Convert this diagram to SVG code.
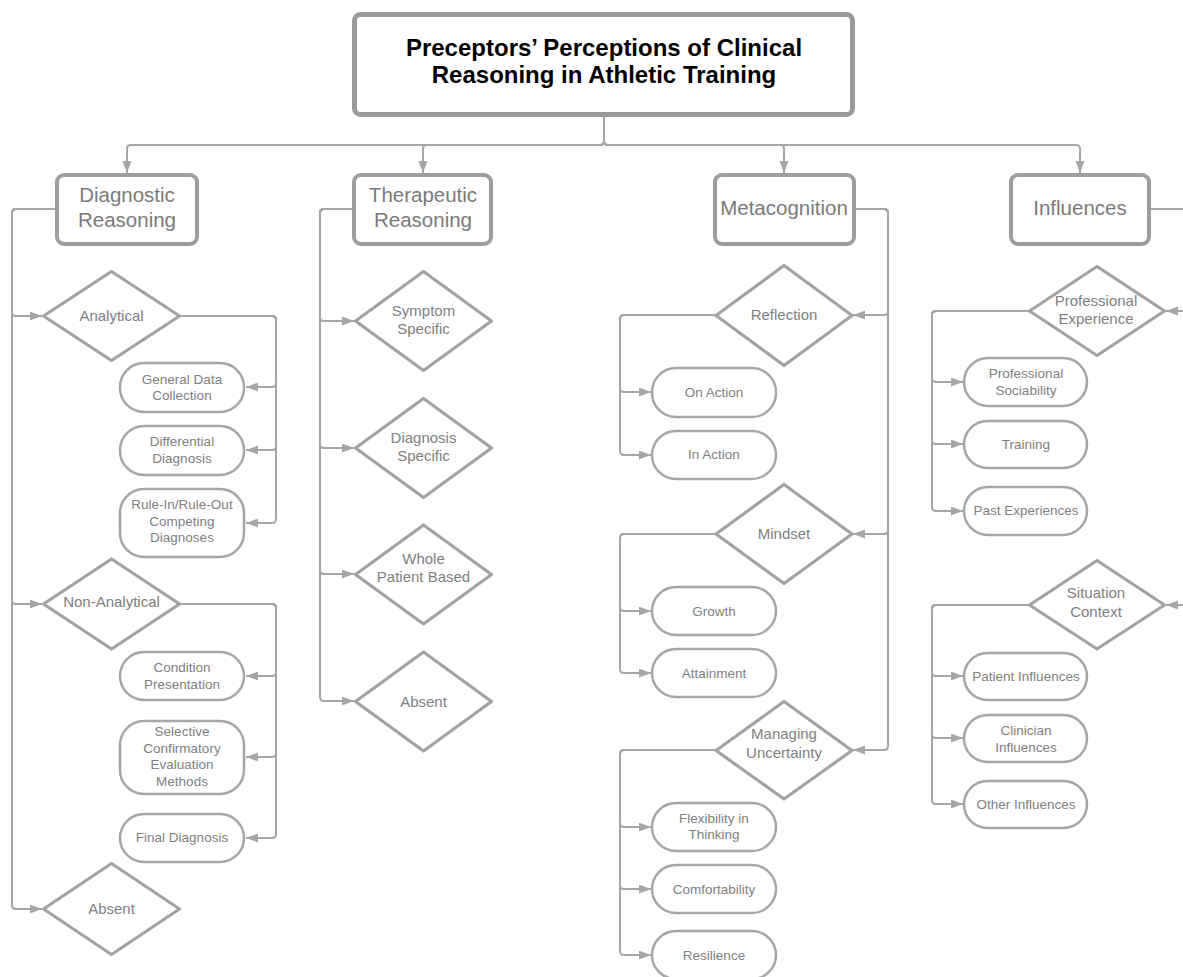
<svg xmlns="http://www.w3.org/2000/svg" width="1183" height="977" viewBox="0 0 1183 977">
<style>
.bg{fill:#ffffff}
.title{fill:#fff;stroke:#9a9a9a;stroke-width:5}
.tt{font-family:"Liberation Sans",Arial,sans-serif;font-weight:bold;font-size:24px;fill:#000;text-anchor:middle}
.cat{fill:#fff;stroke:#9e9e9e;stroke-width:4}
.ct{font-family:"Liberation Sans",Arial,sans-serif;font-size:20.5px;fill:#7a7a7a;text-anchor:middle}
.dia{fill:#fff;stroke:#a3a3a3;stroke-width:3.2;stroke-linejoin:round}
.dt{font-family:"Liberation Sans",Arial,sans-serif;font-size:15px;fill:#808080;text-anchor:middle}
.pill{fill:#fff;stroke:#a6a6a6;stroke-width:2.5}
.pt{font-family:"Liberation Sans",Arial,sans-serif;font-size:13.5px;fill:#808080;text-anchor:middle}
.con{fill:none;stroke:#a6a6a6;stroke-width:2;marker-end:url(#ah)}
.ln{fill:none;stroke:#a6a6a6;stroke-width:2}
</style>
<defs>
<marker id="ah" markerUnits="userSpaceOnUse" markerWidth="13" markerHeight="10" refX="12" refY="4.5" orient="auto">
<path d="M0,0 L12,4.5 L0,9 z" fill="#a6a6a6"/>
</marker>
</defs>
<rect class="bg" x="0" y="0" width="1183" height="977"/>

<g id="connectors">
<!-- top -->
<path class="con" d="M604,116 V141 Q604,145 600,145 H131 Q127,145 127,149 V173"/>
<path class="con" d="M604,116 V141 Q604,145 600,145 H427 Q423,145 423,149 V173"/>
<path class="con" d="M604,116 V141 Q604,145 608,145 H780 Q784,145 784,149 V173"/>
<path class="con" d="M604,116 V141 Q604,145 608,145 H1076 Q1080,145 1080,149 V173"/>
<!-- diagnostic -->
<path class="con" d="M55,209 H16 Q12,209 12,213 V312 Q12,316 16,316 H42"/>
<path class="con" d="M55,209 H16 Q12,209 12,213 V600 Q12,604 16,604 H42"/>
<path class="con" d="M55,209 H16 Q12,209 12,213 V905 Q12,909 16,909 H42"/>
<path class="con" d="M181,316 H272 Q276,316 276,320 V383 Q276,387 272,387 H246"/>
<path class="con" d="M181,316 H272 Q276,316 276,320 V446 Q276,450 272,450 H246"/>
<path class="con" d="M181,316 H272 Q276,316 276,320 V519 Q276,523 272,523 H246"/>
<path class="con" d="M181,604 H272 Q276,604 276,608 V672 Q276,676 272,676 H246"/>
<path class="con" d="M181,604 H272 Q276,604 276,608 V753 Q276,757 272,757 H246"/>
<path class="con" d="M181,604 H272 Q276,604 276,608 V834 Q276,838 272,838 H246"/>
<!-- therapeutic -->
<path class="con" d="M352,209 H324 Q320,209 320,213 V317 Q320,321 324,321 H354"/>
<path class="con" d="M352,209 H324 Q320,209 320,213 V444 Q320,448 324,448 H354"/>
<path class="con" d="M352,209 H324 Q320,209 320,213 V570 Q320,574 324,574 H354"/>
<path class="con" d="M352,209 H324 Q320,209 320,213 V697 Q320,701 324,701 H354"/>
<!-- metacognition -->
<path class="con" d="M856,209 H884 Q888,209 888,213 V311 Q888,315 884,315 H853"/>
<path class="con" d="M856,209 H884 Q888,209 888,213 V530 Q888,534 884,534 H853"/>
<path class="con" d="M856,209 H884 Q888,209 888,213 V746 Q888,750 884,750 H853"/>
<path class="con" d="M715,315 H624 Q620,315 620,319 V388 Q620,392 624,392 H651"/>
<path class="con" d="M715,315 H624 Q620,315 620,319 V451 Q620,455 624,455 H651"/>
<path class="con" d="M715,534 H624 Q620,534 620,538 V607 Q620,611 624,611 H651"/>
<path class="con" d="M715,534 H624 Q620,534 620,538 V669 Q620,673 624,673 H651"/>
<path class="con" d="M715,750 H624 Q620,750 620,754 V823 Q620,827 624,827 H651"/>
<path class="con" d="M715,750 H624 Q620,750 620,754 V885 Q620,889 624,889 H651"/>
<path class="con" d="M715,750 H624 Q620,750 620,754 V951 Q620,955 624,955 H651"/>
<!-- influences -->
<path class="ln" d="M1151,209 H1183"/>
<path class="con" d="M1183,311 H1166"/>
<path class="con" d="M1183,605 H1166"/>
<path class="con" d="M1029,311 H936 Q932,311 932,315 V378 Q932,382 936,382 H963"/>
<path class="con" d="M1029,311 H936 Q932,311 932,315 V440 Q932,444 936,444 H963"/>
<path class="con" d="M1029,311 H936 Q932,311 932,315 V507 Q932,511 936,511 H963"/>
<path class="con" d="M1029,605 H936 Q932,605 932,609 V672 Q932,676 936,676 H963"/>
<path class="con" d="M1029,605 H936 Q932,605 932,609 V734 Q932,738 936,738 H963"/>
<path class="con" d="M1029,605 H936 Q932,605 932,609 V800 Q932,804 936,804 H963"/>
</g>

<g id="title">
<rect class="title" x="354.5" y="14.5" width="498" height="100" rx="6"/>
<text class="tt" x="604" y="56">Preceptors’ Perceptions of Clinical</text>
<text class="tt" x="604" y="83">Reasoning in Athletic Training</text>
</g>

<g id="diagnostic-reasoning">
<rect class="cat" x="57" y="175" width="140" height="69" rx="7"/>
<text class="ct" x="127" y="202">Diagnostic</text>
<text class="ct" x="127" y="227">Reasoning</text>
</g>
<g id="therapeutic-reasoning">
<rect class="cat" x="354" y="175" width="137" height="69" rx="7"/>
<text class="ct" x="423" y="202">Therapeutic</text>
<text class="ct" x="423" y="227">Reasoning</text>
</g>
<g id="metacognition">
<rect class="cat" x="715" y="175" width="139" height="69" rx="7"/>
<text class="ct" x="784" y="215">Metacognition</text>
</g>
<g id="influences">
<rect class="cat" x="1011" y="175" width="138" height="69" rx="7"/>
<text class="ct" x="1080" y="215">Influences</text>
</g>

<!-- diagnostic children -->
<g id="analytical">
<polygon class="dia" points="111.5,271.5 179.5,316 111.5,360.5 43.5,316"/>
<text class="dt" x="111.5" y="321">Analytical</text>
</g>
<g id="general-data-collection">
<rect class="pill" x="120" y="363" width="124" height="49" rx="24"/>
<text class="pt" x="182" y="384">General Data</text>
<text class="pt" x="182" y="400">Collection</text>
</g>
<g id="differential-diagnosis">
<rect class="pill" x="120" y="426" width="124" height="49" rx="24"/>
<text class="pt" x="182" y="446">Differential</text>
<text class="pt" x="182" y="463">Diagnosis</text>
</g>
<g id="rule-in-rule-out">
<rect class="pill" x="120" y="489" width="124" height="68" rx="24"/>
<text class="pt" x="182" y="509">Rule-In/Rule-Out</text>
<text class="pt" x="182" y="526">Competing</text>
<text class="pt" x="182" y="542">Diagnoses</text>
</g>
<g id="non-analytical">
<polygon class="dia" points="111.5,559 179.5,604 111.5,649 43.5,604"/>
<text class="dt" x="111.5" y="607">Non-Analytical</text>
</g>
<g id="condition-presentation">
<rect class="pill" x="120" y="652" width="124" height="48" rx="24"/>
<text class="pt" x="182" y="672">Condition</text>
<text class="pt" x="182" y="689">Presentation</text>
</g>
<g id="selective-confirmatory">
<rect class="pill" x="120" y="721" width="124" height="73" rx="24"/>
<text class="pt" x="182" y="736">Selective</text>
<text class="pt" x="182" y="753">Confirmatory</text>
<text class="pt" x="182" y="769">Evaluation</text>
<text class="pt" x="182" y="786">Methods</text>
</g>
<g id="final-diagnosis">
<rect class="pill" x="120" y="814" width="124" height="48" rx="24"/>
<text class="pt" x="182" y="842">Final Diagnosis</text>
</g>
<g id="diagnostic-absent">
<polygon class="dia" points="111.5,863.5 179.5,909 111.5,954.5 43.5,909"/>
<text class="dt" x="111.5" y="914">Absent</text>
</g>

<!-- therapeutic children -->
<g id="symptom-specific">
<polygon class="dia" points="423.5,271.5 491.5,321 423.5,370.5 355.5,321"/>
<text class="dt" x="423.5" y="316">Symptom</text>
<text class="dt" x="423.5" y="334">Specific</text>
</g>
<g id="diagnosis-specific">
<polygon class="dia" points="423.5,398.5 491.5,448 423.5,497.5 355.5,448"/>
<text class="dt" x="423.5" y="443">Diagnosis</text>
<text class="dt" x="423.5" y="461">Specific</text>
</g>
<g id="whole-patient-based">
<polygon class="dia" points="423.5,525 491.5,574.5 423.5,624 355.5,574.5"/>
<text class="dt" x="423.5" y="564">Whole</text>
<text class="dt" x="423.5" y="582">Patient Based</text>
</g>
<g id="therapeutic-absent">
<polygon class="dia" points="423.5,652 491.5,701.5 423.5,751 355.5,701.5"/>
<text class="dt" x="423.5" y="707">Absent</text>
</g>

<!-- metacognition children -->
<g id="reflection">
<polygon class="dia" points="784,265.5 852,315.5 784,365.5 716,315.5"/>
<text class="dt" x="784" y="320">Reflection</text>
</g>
<g id="on-action">
<rect class="pill" x="652" y="368" width="124" height="49" rx="24"/>
<text class="pt" x="714" y="397">On Action</text>
</g>
<g id="in-action">
<rect class="pill" x="652" y="431" width="124" height="48" rx="24"/>
<text class="pt" x="714" y="459">In Action</text>
</g>
<g id="mindset">
<polygon class="dia" points="784,484.5 852,534 784,583.5 716,534"/>
<text class="dt" x="784" y="539">Mindset</text>
</g>
<g id="growth">
<rect class="pill" x="652" y="587" width="124" height="48" rx="24"/>
<text class="pt" x="714" y="616">Growth</text>
</g>
<g id="attainment">
<rect class="pill" x="652" y="649" width="124" height="48" rx="24"/>
<text class="pt" x="714" y="678">Attainment</text>
</g>
<g id="managing-uncertainty">
<polygon class="dia" points="784,701.5 852,750.5 784,799 716,750.5"/>
<text class="dt" x="784" y="739">Managing</text>
<text class="dt" x="784" y="758">Uncertainty</text>
</g>
<g id="flexibility-in-thinking">
<rect class="pill" x="652" y="803" width="124" height="48" rx="24"/>
<text class="pt" x="714" y="823">Flexibility in</text>
<text class="pt" x="714" y="839">Thinking</text>
</g>
<g id="comfortability">
<rect class="pill" x="652" y="865" width="124" height="48" rx="24"/>
<text class="pt" x="714" y="894">Comfortability</text>
</g>
<g id="resilience">
<rect class="pill" x="652" y="931" width="124" height="48" rx="24"/>
<text class="pt" x="714" y="960">Resilience</text>
</g>

<!-- influences children -->
<g id="professional-experience">
<polygon class="dia" points="1097,266.5 1164.5,311 1097,355.5 1029.5,311"/>
<text class="dt" x="1096" y="306">Professional</text>
<text class="dt" x="1096" y="324">Experience</text>
</g>
<g id="professional-sociability">
<rect class="pill" x="964" y="358" width="123" height="48" rx="24"/>
<text class="pt" x="1026" y="378">Professional</text>
<text class="pt" x="1026" y="395">Sociability</text>
</g>
<g id="training">
<rect class="pill" x="964" y="421" width="123" height="47" rx="23.5"/>
<text class="pt" x="1026" y="449">Training</text>
</g>
<g id="past-experiences">
<rect class="pill" x="964" y="487" width="123" height="48" rx="24"/>
<text class="pt" x="1026" y="515">Past Experiences</text>
</g>
<g id="situation-context">
<polygon class="dia" points="1097,560.5 1164.5,605 1097,649 1029.5,605"/>
<text class="dt" x="1096" y="598">Situation</text>
<text class="dt" x="1096" y="617">Context</text>
</g>
<g id="patient-influences">
<rect class="pill" x="964" y="653" width="123" height="47" rx="23.5"/>
<text class="pt" x="1026" y="681">Patient Influences</text>
</g>
<g id="clinician-influences">
<rect class="pill" x="964" y="715" width="123" height="47" rx="23.5"/>
<text class="pt" x="1026" y="735">Clinician</text>
<text class="pt" x="1026" y="752">Influences</text>
</g>
<g id="other-influences">
<rect class="pill" x="964" y="781" width="123" height="47" rx="23.5"/>
<text class="pt" x="1026" y="809">Other Influences</text>
</g>
</svg>
